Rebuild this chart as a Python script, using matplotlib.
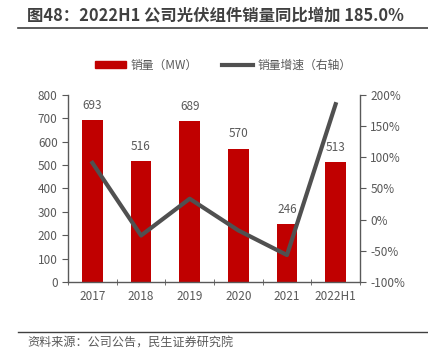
import matplotlib
matplotlib.use("Agg")
import matplotlib.pyplot as plt
import numpy as np
from matplotlib.lines import Line2D

plt.rcParams['font.family'] = ['Noto Sans CJK SC', 'DejaVu Sans']

years = ["2017", "2018", "2019", "2020", "2021", "2022H1"]
sales = [693, 516, 689, 570, 246, 513]
growth = [91.0, -25.5, 33.5, -17.3, -56.8, 185.0]

red = "#C00000"
gray = "#595959"
txt = "#595959"

fig = plt.figure(figsize=(4.28, 3.62), dpi=100)
ax = fig.add_axes([0.159, 0.221, 0.682, 0.517])
ax2 = ax.twinx()

x = np.arange(len(years))
ax.bar(x, sales, width=0.43, color=red, zorder=2)
for xi, v in zip(x, sales):
    ax.text(xi, v + 35, str(v), ha="center", va="bottom", fontsize=8.5, color=txt)

ax2.plot(x, growth, color="#505050", lw=3, zorder=3)

ax.set_xlim(-0.5, len(years) - 0.5)
ax.set_ylim(0, 800)
ax.set_yticks(range(0, 801, 100))
ax2.set_ylim(-100, 200)
ax2.set_yticks(range(-100, 201, 50))
ax2.set_yticklabels([f"{v}%" for v in range(-100, 201, 50)])

ax.set_xticks(x)
ax.set_xticklabels(years)
ax.set_xticks(np.arange(-0.5, len(years), 1), minor=True)
ax.tick_params(axis="x", which="major", length=0, colors=txt, labelsize=8.5, pad=6)
ax.tick_params(axis="x", which="minor", length=4, direction="inout", color=gray)
ax.tick_params(axis="y", length=4, color=gray, labelcolor=txt, labelsize=8.5)
ax2.tick_params(axis="y", length=4, color=gray, labelcolor=txt, labelsize=8.5)

for a in (ax, ax2):
    a.spines["top"].set_visible(False)
    for s in ("left", "right", "bottom"):
        a.spines[s].set_color(gray)
        a.spines[s].set_linewidth(1)
ax.spines["right"].set_visible(False)
ax2.spines["left"].set_visible(False)
ax2.spines["bottom"].set_visible(False)

handles = [plt.Rectangle((0, 0), 1, 1, color=red),
           Line2D([0], [0], color="#505050", lw=3)]
fig.legend(handles, ["销量（MW）", "销量增速（右轴）"], loc="center",
           bbox_to_anchor=(0.522, 0.82), ncol=2, frameon=False, fontsize=8.5,
           labelcolor=txt, handlelength=2.6, handleheight=0.6, handletextpad=0.4,
           columnspacing=2.1)

fig.text(0.063, 0.956, "图48：2022H1 公司光伏组件销量同比增加 185.0%", fontsize=11.8,
         fontweight="bold", color="#404040", va="center")
fig.add_artist(Line2D([0.042, 1.0], [0.922, 0.922], color="#404040", lw=1.2))
fig.add_artist(Line2D([0.042, 1.0], [0.083, 0.083], color="#404040", lw=1))
fig.text(0.063, 0.052, "资料来源：公司公告，民生证券研究院", fontsize=8.7, color=txt, va="center")

fig.savefig("out.png", dpi=100)
